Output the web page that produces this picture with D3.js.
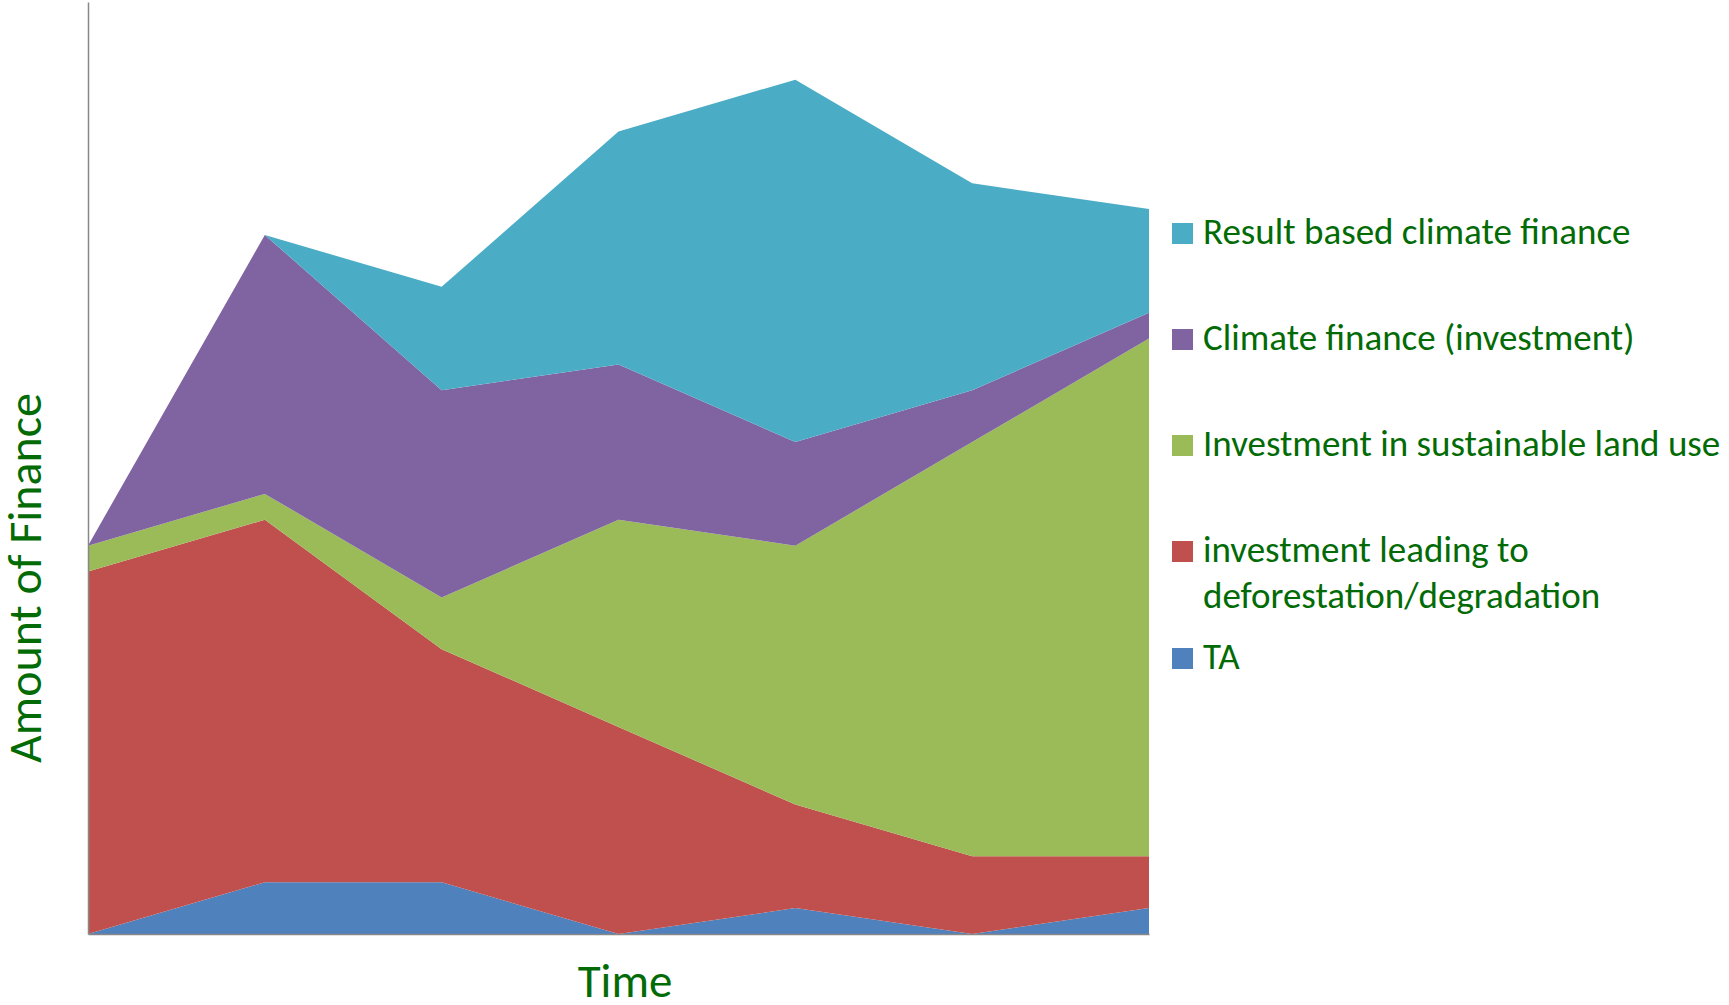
<!DOCTYPE html>
<html>
<head>
<meta charset="utf-8">
<script src="https://cdn.jsdelivr.net/npm/d3@7"></script>
<style>
  body { margin: 0; background: #fff; }
  text { font-family: "Carlito", "Liberation Sans Narrow", "Open Sans", sans-serif; fill: #036b06; }
</style>
</head>
<body>
<div id="chart"></div>
<script>
var svgWidth = 1729;
var svgHeight = 1005;

// time steps (no tick labels shown)
var periods = [0, 1, 2, 3, 4, 5, 6];

// series values, stacked bottom to top
var ta = [0, 2, 2, 0, 1, 0, 1];
var deforestation = [14, 14, 9, 8, 4, 3, 2];
var sustainableLand = [1, 1, 2, 8, 10, 16, 20];
var climateInvestment = [0, 10, 8, 6, 4, 2, 1];
var resultBased = [0, 0, 4, 9, 14, 8, 4];

var seriesKeys = ["ta", "deforestation", "sustainable", "climateInv", "resultBased"];
var seriesColors = ["#4f81bd", "#c0504d", "#9bbb59", "#8064a2", "#4bacc6"];
var legendLabels = [
  ["Result based climate finance"],
  ["Climate finance (investment)"],
  ["Investment in sustainable land use"],
  ["investment leading to", "deforestation/degradation"],
  ["TA"]
];
var legendColors = ["#4bacc6", "#8064a2", "#9bbb59", "#c0504d", "#4f81bd"];

var plot = { left: 88, right: 1149, top: 2, bottom: 934 };

var svg = d3.select("#chart")
  .append("svg")
  .attr("width", svgWidth)
  .attr("height", svgHeight);

var rows = periods.map(function(p, i) {
  return {
    period: p,
    ta: ta[i],
    deforestation: deforestation[i],
    sustainable: sustainableLand[i],
    climateInv: climateInvestment[i],
    resultBased: resultBased[i]
  };
});

var stacked = d3.stack().keys(seriesKeys)(rows);

var xScale = d3.scaleLinear()
  .domain(d3.extent(periods))
  .range([plot.left, plot.right]);

var yScale = d3.scaleLinear()
  .domain([0, 36])
  .range([plot.bottom, plot.top]);

var area = d3.area()
  .x(d => xScale(d.data.period))
  .y0(d => yScale(d[0]))
  .y1(d => yScale(d[1]));

svg.append("g").selectAll("path")
  .data(stacked)
  .enter()
  .append("path")
  .attr("d", area)
  .attr("fill", (d, i) => seriesColors[i]);

// axes: plain lines, no ticks
var bottomAxis = d3.axisBottom(xScale).ticks(0).tickSize(0).tickFormat("");
var leftAxis = d3.axisLeft(yScale).ticks(0).tickSize(0).tickFormat("");

svg.append("g")
  .attr("transform", `translate(0, ${plot.bottom})`)
  .call(bottomAxis)
  .select(".domain")
  .attr("stroke", "#888")
  .attr("stroke-width", 1.5);

svg.append("g")
  .attr("transform", `translate(${plot.left}, 0)`)
  .call(leftAxis)
  .select(".domain")
  .attr("stroke", "#888")
  .attr("stroke-width", 1.5);

// axis titles
svg.append("text")
  .attr("x", 625)
  .attr("y", 997)
  .attr("text-anchor", "middle")
  .attr("font-size", "47px")
  .text("Time");

svg.append("text")
  .attr("transform", "translate(41, 578) rotate(-90)")
  .attr("text-anchor", "middle")
  .attr("font-size", "48px")
  .text("Amount of Finance");

// legend
var legendY = [244, 350, 456, 562, 669];
var legend = svg.append("g");

legendLabels.forEach(function(lines, i) {
  legend.append("rect")
    .attr("x", 1172)
    .attr("y", legendY[i] - 21)
    .attr("width", 21)
    .attr("height", 21)
    .attr("fill", legendColors[i]);

  var t = legend.append("text")
    .attr("x", 1203)
    .attr("y", legendY[i])
    .attr("font-size", "37px");
  lines.forEach(function(line, j) {
    t.append("tspan")
      .attr("x", 1203)
      .attr("dy", j === 0 ? 0 : 46)
      .text(line);
  });
});
</script>
</body>
</html>
